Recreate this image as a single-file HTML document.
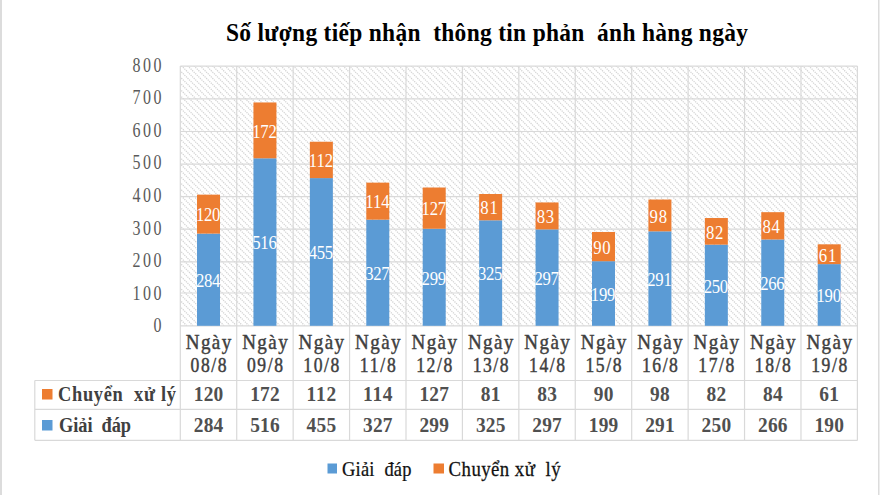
<!DOCTYPE html><html><head><meta charset="utf-8"><style>html,body{margin:0;padding:0;background:#fff;overflow:hidden}svg{display:block}text{white-space:pre}</style></head><body>
<svg width="880" height="495" viewBox="0 0 880 495" font-family='"Liberation Serif", serif'>
<rect x="0" y="0" width="880" height="495" fill="#fff"/>
<rect x="0" y="0" width="2" height="495" fill="#dcdcdc"/>
<rect x="878" y="0" width="1.5" height="495" fill="#dcdcdc"/>
<text transform="translate(226.00,40.60) scale(0.920,1)" x="0" y="0" font-size="25.50" font-weight="bold" fill="#000" text-anchor="start" textLength="567.39" lengthAdjust="spacing">Số lượng tiếp nhận  thông tin phản  ánh hàng ngày</text>
<defs><clipPath id="pc"><rect x="180.30" y="66.10" width="677.10" height="259.70"/></clipPath></defs>
<path clip-path="url(#pc)" d="M-93.46,64.10L170.24,327.80M-87.25,64.10L176.45,327.80M-81.04,64.10L182.66,327.80M-74.83,64.10L188.87,327.80M-68.62,64.10L195.08,327.80M-62.41,64.10L201.29,327.80M-56.20,64.10L207.50,327.80M-49.99,64.10L213.71,327.80M-43.78,64.10L219.92,327.80M-37.57,64.10L226.13,327.80M-31.36,64.10L232.34,327.80M-25.15,64.10L238.55,327.80M-18.94,64.10L244.76,327.80M-12.73,64.10L250.97,327.80M-6.52,64.10L257.18,327.80M-0.31,64.10L263.39,327.80M5.90,64.10L269.60,327.80M12.11,64.10L275.81,327.80M18.32,64.10L282.02,327.80M24.53,64.10L288.23,327.80M30.74,64.10L294.44,327.80M36.95,64.10L300.65,327.80M43.16,64.10L306.86,327.80M49.37,64.10L313.07,327.80M55.58,64.10L319.28,327.80M61.79,64.10L325.49,327.80M68.00,64.10L331.70,327.80M74.21,64.10L337.91,327.80M80.42,64.10L344.12,327.80M86.63,64.10L350.33,327.80M92.84,64.10L356.54,327.80M99.05,64.10L362.75,327.80M105.26,64.10L368.96,327.80M111.47,64.10L375.17,327.80M117.68,64.10L381.38,327.80M123.89,64.10L387.59,327.80M130.10,64.10L393.80,327.80M136.31,64.10L400.01,327.80M142.52,64.10L406.22,327.80M148.73,64.10L412.43,327.80M154.94,64.10L418.64,327.80M161.15,64.10L424.85,327.80M167.36,64.10L431.06,327.80M173.57,64.10L437.27,327.80M179.78,64.10L443.48,327.80M185.99,64.10L449.69,327.80M192.20,64.10L455.90,327.80M198.41,64.10L462.11,327.80M204.62,64.10L468.32,327.80M210.83,64.10L474.53,327.80M217.04,64.10L480.74,327.80M223.25,64.10L486.95,327.80M229.46,64.10L493.16,327.80M235.67,64.10L499.37,327.80M241.88,64.10L505.58,327.80M248.09,64.10L511.79,327.80M254.30,64.10L518.00,327.80M260.51,64.10L524.21,327.80M266.72,64.10L530.42,327.80M272.93,64.10L536.63,327.80M279.14,64.10L542.84,327.80M285.35,64.10L549.05,327.80M291.56,64.10L555.26,327.80M297.77,64.10L561.47,327.80M303.98,64.10L567.68,327.80M310.19,64.10L573.89,327.80M316.40,64.10L580.10,327.80M322.61,64.10L586.31,327.80M328.82,64.10L592.52,327.80M335.03,64.10L598.73,327.80M341.24,64.10L604.94,327.80M347.45,64.10L611.15,327.80M353.66,64.10L617.36,327.80M359.87,64.10L623.57,327.80M366.08,64.10L629.78,327.80M372.29,64.10L635.99,327.80M378.50,64.10L642.20,327.80M384.71,64.10L648.41,327.80M390.92,64.10L654.62,327.80M397.13,64.10L660.83,327.80M403.34,64.10L667.04,327.80M409.55,64.10L673.25,327.80M415.76,64.10L679.46,327.80M421.97,64.10L685.67,327.80M428.18,64.10L691.88,327.80M434.39,64.10L698.09,327.80M440.60,64.10L704.30,327.80M446.81,64.10L710.51,327.80M453.02,64.10L716.72,327.80M459.23,64.10L722.93,327.80M465.44,64.10L729.14,327.80M471.65,64.10L735.35,327.80M477.86,64.10L741.56,327.80M484.07,64.10L747.77,327.80M490.28,64.10L753.98,327.80M496.49,64.10L760.19,327.80M502.70,64.10L766.40,327.80M508.91,64.10L772.61,327.80M515.12,64.10L778.82,327.80M521.33,64.10L785.03,327.80M527.54,64.10L791.24,327.80M533.75,64.10L797.45,327.80M539.96,64.10L803.66,327.80M546.17,64.10L809.87,327.80M552.38,64.10L816.08,327.80M558.59,64.10L822.29,327.80M564.80,64.10L828.50,327.80M571.01,64.10L834.71,327.80M577.22,64.10L840.92,327.80M583.43,64.10L847.13,327.80M589.64,64.10L853.34,327.80M595.85,64.10L859.55,327.80M602.06,64.10L865.76,327.80M608.27,64.10L871.97,327.80M614.48,64.10L878.18,327.80M620.69,64.10L884.39,327.80M626.90,64.10L890.60,327.80M633.11,64.10L896.81,327.80M639.32,64.10L903.02,327.80M645.53,64.10L909.23,327.80M651.74,64.10L915.44,327.80M657.95,64.10L921.65,327.80M664.16,64.10L927.86,327.80M670.37,64.10L934.07,327.80M676.58,64.10L940.28,327.80M682.79,64.10L946.49,327.80M689.00,64.10L952.70,327.80M695.21,64.10L958.91,327.80M701.42,64.10L965.12,327.80M707.63,64.10L971.33,327.80M713.84,64.10L977.54,327.80M720.05,64.10L983.75,327.80M726.26,64.10L989.96,327.80M732.47,64.10L996.17,327.80M738.68,64.10L1002.38,327.80M744.89,64.10L1008.59,327.80M751.10,64.10L1014.80,327.80M757.31,64.10L1021.01,327.80M763.52,64.10L1027.22,327.80M769.73,64.10L1033.43,327.80M775.94,64.10L1039.64,327.80M782.15,64.10L1045.85,327.80M788.36,64.10L1052.06,327.80M794.57,64.10L1058.27,327.80M800.78,64.10L1064.48,327.80M806.99,64.10L1070.69,327.80M813.20,64.10L1076.90,327.80M819.41,64.10L1083.11,327.80M825.62,64.10L1089.32,327.80M831.83,64.10L1095.53,327.80M838.04,64.10L1101.74,327.80M844.25,64.10L1107.95,327.80M850.46,64.10L1114.16,327.80M856.67,64.10L1120.37,327.80" stroke="#d4d4d4" stroke-width="1.3" fill="none" stroke-dasharray="1.25 0.945"/>
<line x1="180.30" y1="66.10" x2="857.40" y2="66.10" stroke="#d9d9d9" stroke-width="1.2"/>
<line x1="180.30" y1="98.90" x2="857.40" y2="98.90" stroke="#d9d9d9" stroke-width="1.2"/>
<line x1="180.30" y1="131.50" x2="857.40" y2="131.50" stroke="#d9d9d9" stroke-width="1.2"/>
<line x1="180.30" y1="164.20" x2="857.40" y2="164.20" stroke="#d9d9d9" stroke-width="1.2"/>
<line x1="180.30" y1="196.60" x2="857.40" y2="196.60" stroke="#d9d9d9" stroke-width="1.2"/>
<line x1="180.30" y1="229.20" x2="857.40" y2="229.20" stroke="#d9d9d9" stroke-width="1.2"/>
<line x1="180.30" y1="261.80" x2="857.40" y2="261.80" stroke="#d9d9d9" stroke-width="1.2"/>
<line x1="180.30" y1="293.00" x2="857.40" y2="293.00" stroke="#d9d9d9" stroke-width="1.2"/>
<line x1="180.30" y1="325.80" x2="857.40" y2="325.80" stroke="#d9d9d9" stroke-width="1.2"/>
<line x1="180.30" y1="66.10" x2="180.30" y2="440.50" stroke="#d9d9d9" stroke-width="1.2"/>
<line x1="236.72" y1="66.10" x2="236.72" y2="440.50" stroke="#d9d9d9" stroke-width="1.2"/>
<line x1="293.15" y1="66.10" x2="293.15" y2="440.50" stroke="#d9d9d9" stroke-width="1.2"/>
<line x1="349.57" y1="66.10" x2="349.57" y2="440.50" stroke="#d9d9d9" stroke-width="1.2"/>
<line x1="406.00" y1="66.10" x2="406.00" y2="440.50" stroke="#d9d9d9" stroke-width="1.2"/>
<line x1="462.42" y1="66.10" x2="462.42" y2="440.50" stroke="#d9d9d9" stroke-width="1.2"/>
<line x1="518.85" y1="66.10" x2="518.85" y2="440.50" stroke="#d9d9d9" stroke-width="1.2"/>
<line x1="575.27" y1="66.10" x2="575.27" y2="440.50" stroke="#d9d9d9" stroke-width="1.2"/>
<line x1="631.70" y1="66.10" x2="631.70" y2="440.50" stroke="#d9d9d9" stroke-width="1.2"/>
<line x1="688.12" y1="66.10" x2="688.12" y2="440.50" stroke="#d9d9d9" stroke-width="1.2"/>
<line x1="744.55" y1="66.10" x2="744.55" y2="440.50" stroke="#d9d9d9" stroke-width="1.2"/>
<line x1="800.97" y1="66.10" x2="800.97" y2="440.50" stroke="#d9d9d9" stroke-width="1.2"/>
<line x1="857.40" y1="66.10" x2="857.40" y2="440.50" stroke="#d9d9d9" stroke-width="1.2"/>
<line x1="34.80" y1="380.50" x2="857.40" y2="380.50" stroke="#d9d9d9" stroke-width="1.2"/>
<line x1="34.80" y1="409.40" x2="857.40" y2="409.40" stroke="#d9d9d9" stroke-width="1.2"/>
<line x1="34.80" y1="440.30" x2="857.40" y2="440.30" stroke="#d9d9d9" stroke-width="1.2"/>
<line x1="34.80" y1="380.5" x2="34.80" y2="440.3" stroke="#d9d9d9" stroke-width="1.2"/>
<text transform="translate(161.50,71.60) scale(0.800,1)" x="0" y="0" font-size="20.00" font-weight="normal" fill="#5a5a5a" text-anchor="end" textLength="36.25" lengthAdjust="spacing">800</text>
<text transform="translate(161.50,104.20) scale(0.800,1)" x="0" y="0" font-size="20.00" font-weight="normal" fill="#5a5a5a" text-anchor="end" textLength="36.25" lengthAdjust="spacing">700</text>
<text transform="translate(161.50,136.80) scale(0.800,1)" x="0" y="0" font-size="20.00" font-weight="normal" fill="#5a5a5a" text-anchor="end" textLength="36.25" lengthAdjust="spacing">600</text>
<text transform="translate(161.50,169.40) scale(0.800,1)" x="0" y="0" font-size="20.00" font-weight="normal" fill="#5a5a5a" text-anchor="end" textLength="36.25" lengthAdjust="spacing">500</text>
<text transform="translate(161.50,202.00) scale(0.800,1)" x="0" y="0" font-size="20.00" font-weight="normal" fill="#5a5a5a" text-anchor="end" textLength="36.25" lengthAdjust="spacing">400</text>
<text transform="translate(161.50,234.60) scale(0.800,1)" x="0" y="0" font-size="20.00" font-weight="normal" fill="#5a5a5a" text-anchor="end" textLength="36.25" lengthAdjust="spacing">300</text>
<text transform="translate(161.50,267.20) scale(0.800,1)" x="0" y="0" font-size="20.00" font-weight="normal" fill="#5a5a5a" text-anchor="end" textLength="36.25" lengthAdjust="spacing">200</text>
<text transform="translate(161.50,299.80) scale(0.800,1)" x="0" y="0" font-size="20.00" font-weight="normal" fill="#5a5a5a" text-anchor="end" textLength="36.25" lengthAdjust="spacing">100</text>
<text transform="translate(161.50,332.40) scale(0.800,1)" x="0" y="0" font-size="20.00" font-weight="normal" fill="#5a5a5a" text-anchor="end">0</text>
<rect x="197.01" y="233.61" width="23" height="92.19" fill="#5B9BD5"/>
<rect x="197.01" y="194.65" width="23" height="38.96" fill="#ED7D31"/>
<text transform="translate(208.11,287.00) scale(0.930,1)" x="0" y="0" font-size="18.00" font-weight="normal" fill="#fff" text-anchor="middle" textLength="26.34" lengthAdjust="spacing">284</text>
<text transform="translate(208.11,221.43) scale(0.930,1)" x="0" y="0" font-size="18.00" font-weight="normal" fill="#fff" text-anchor="middle" textLength="26.34" lengthAdjust="spacing">120</text>
<text transform="translate(208.51,348.50) scale(0.930,1)" x="0" y="0" font-size="20.50" font-weight="normal" fill="#404040" text-anchor="middle" textLength="48.92" lengthAdjust="spacing" stroke="#404040" stroke-width="0.45">Ngày</text>
<text transform="translate(208.51,372.20) scale(0.880,1)" x="0" y="0" font-size="20.00" font-weight="normal" fill="#404040" text-anchor="middle" textLength="40.91" lengthAdjust="spacing" stroke="#404040" stroke-width="0.45">08/8</text>
<text transform="translate(208.51,401.00) scale(0.970,1)" x="0" y="0" font-size="20.00" font-weight="bold" fill="#505050" text-anchor="middle" textLength="30.41" lengthAdjust="spacing">120</text>
<text transform="translate(208.51,431.50) scale(0.970,1)" x="0" y="0" font-size="20.00" font-weight="bold" fill="#505050" text-anchor="middle" textLength="30.41" lengthAdjust="spacing">284</text>
<rect x="253.44" y="158.29" width="23" height="167.51" fill="#5B9BD5"/>
<rect x="253.44" y="102.46" width="23" height="55.84" fill="#ED7D31"/>
<text transform="translate(264.54,249.35) scale(0.930,1)" x="0" y="0" font-size="18.00" font-weight="normal" fill="#fff" text-anchor="middle" textLength="26.34" lengthAdjust="spacing">516</text>
<text transform="translate(264.54,137.68) scale(0.930,1)" x="0" y="0" font-size="18.00" font-weight="normal" fill="#fff" text-anchor="middle" textLength="26.34" lengthAdjust="spacing">172</text>
<text transform="translate(264.94,348.50) scale(0.930,1)" x="0" y="0" font-size="20.50" font-weight="normal" fill="#404040" text-anchor="middle" textLength="48.92" lengthAdjust="spacing" stroke="#404040" stroke-width="0.45">Ngày</text>
<text transform="translate(264.94,372.20) scale(0.880,1)" x="0" y="0" font-size="20.00" font-weight="normal" fill="#404040" text-anchor="middle" textLength="40.91" lengthAdjust="spacing" stroke="#404040" stroke-width="0.45">09/8</text>
<text transform="translate(264.94,401.00) scale(0.970,1)" x="0" y="0" font-size="20.00" font-weight="bold" fill="#505050" text-anchor="middle" textLength="30.41" lengthAdjust="spacing">172</text>
<text transform="translate(264.94,431.50) scale(0.970,1)" x="0" y="0" font-size="20.00" font-weight="bold" fill="#505050" text-anchor="middle" textLength="30.41" lengthAdjust="spacing">516</text>
<rect x="309.86" y="178.10" width="23" height="147.70" fill="#5B9BD5"/>
<rect x="309.86" y="141.74" width="23" height="36.36" fill="#ED7D31"/>
<text transform="translate(320.96,259.25) scale(0.930,1)" x="0" y="0" font-size="18.00" font-weight="normal" fill="#fff" text-anchor="middle" textLength="26.34" lengthAdjust="spacing">455</text>
<text transform="translate(320.96,167.22) scale(0.930,1)" x="0" y="0" font-size="18.00" font-weight="normal" fill="#fff" text-anchor="middle" textLength="26.34" lengthAdjust="spacing">112</text>
<text transform="translate(321.36,348.50) scale(0.930,1)" x="0" y="0" font-size="20.50" font-weight="normal" fill="#404040" text-anchor="middle" textLength="48.92" lengthAdjust="spacing" stroke="#404040" stroke-width="0.45">Ngày</text>
<text transform="translate(321.36,372.20) scale(0.880,1)" x="0" y="0" font-size="20.00" font-weight="normal" fill="#404040" text-anchor="middle" textLength="40.91" lengthAdjust="spacing" stroke="#404040" stroke-width="0.45">10/8</text>
<text transform="translate(321.36,401.00) scale(0.970,1)" x="0" y="0" font-size="20.00" font-weight="bold" fill="#505050" text-anchor="middle" textLength="30.41" lengthAdjust="spacing">112</text>
<text transform="translate(321.36,431.50) scale(0.970,1)" x="0" y="0" font-size="20.00" font-weight="bold" fill="#505050" text-anchor="middle" textLength="30.41" lengthAdjust="spacing">455</text>
<rect x="366.29" y="219.65" width="23" height="106.15" fill="#5B9BD5"/>
<rect x="366.29" y="182.64" width="23" height="37.01" fill="#ED7D31"/>
<text transform="translate(377.39,280.02) scale(0.930,1)" x="0" y="0" font-size="18.00" font-weight="normal" fill="#fff" text-anchor="middle" textLength="26.34" lengthAdjust="spacing">327</text>
<text transform="translate(377.39,208.44) scale(0.930,1)" x="0" y="0" font-size="18.00" font-weight="normal" fill="#fff" text-anchor="middle" textLength="26.34" lengthAdjust="spacing">114</text>
<text transform="translate(377.79,348.50) scale(0.930,1)" x="0" y="0" font-size="20.50" font-weight="normal" fill="#404040" text-anchor="middle" textLength="48.92" lengthAdjust="spacing" stroke="#404040" stroke-width="0.45">Ngày</text>
<text transform="translate(377.79,372.20) scale(0.880,1)" x="0" y="0" font-size="20.00" font-weight="normal" fill="#404040" text-anchor="middle" textLength="40.91" lengthAdjust="spacing" stroke="#404040" stroke-width="0.45">11/8</text>
<text transform="translate(377.79,401.00) scale(0.970,1)" x="0" y="0" font-size="20.00" font-weight="bold" fill="#505050" text-anchor="middle" textLength="30.41" lengthAdjust="spacing">114</text>
<text transform="translate(377.79,431.50) scale(0.970,1)" x="0" y="0" font-size="20.00" font-weight="bold" fill="#505050" text-anchor="middle" textLength="30.41" lengthAdjust="spacing">327</text>
<rect x="422.71" y="228.74" width="23" height="97.06" fill="#5B9BD5"/>
<rect x="422.71" y="187.51" width="23" height="41.23" fill="#ED7D31"/>
<text transform="translate(433.81,284.57) scale(0.930,1)" x="0" y="0" font-size="18.00" font-weight="normal" fill="#fff" text-anchor="middle" textLength="26.34" lengthAdjust="spacing">299</text>
<text transform="translate(433.81,215.42) scale(0.930,1)" x="0" y="0" font-size="18.00" font-weight="normal" fill="#fff" text-anchor="middle" textLength="26.34" lengthAdjust="spacing">127</text>
<text transform="translate(434.21,348.50) scale(0.930,1)" x="0" y="0" font-size="20.50" font-weight="normal" fill="#404040" text-anchor="middle" textLength="48.92" lengthAdjust="spacing" stroke="#404040" stroke-width="0.45">Ngày</text>
<text transform="translate(434.21,372.20) scale(0.880,1)" x="0" y="0" font-size="20.00" font-weight="normal" fill="#404040" text-anchor="middle" textLength="40.91" lengthAdjust="spacing" stroke="#404040" stroke-width="0.45">12/8</text>
<text transform="translate(434.21,401.00) scale(0.970,1)" x="0" y="0" font-size="20.00" font-weight="bold" fill="#505050" text-anchor="middle" textLength="30.41" lengthAdjust="spacing">127</text>
<text transform="translate(434.21,431.50) scale(0.970,1)" x="0" y="0" font-size="20.00" font-weight="bold" fill="#505050" text-anchor="middle" textLength="30.41" lengthAdjust="spacing">299</text>
<rect x="479.14" y="220.30" width="23" height="105.50" fill="#5B9BD5"/>
<rect x="479.14" y="194.00" width="23" height="26.29" fill="#ED7D31"/>
<text transform="translate(490.24,280.35) scale(0.930,1)" x="0" y="0" font-size="18.00" font-weight="normal" fill="#fff" text-anchor="middle" textLength="26.34" lengthAdjust="spacing">325</text>
<text transform="translate(489.04,214.45) scale(0.930,1)" x="0" y="0" font-size="18.00" font-weight="normal" fill="#fff" text-anchor="middle" textLength="18.82" lengthAdjust="spacing">81</text>
<text transform="translate(490.64,348.50) scale(0.930,1)" x="0" y="0" font-size="20.50" font-weight="normal" fill="#404040" text-anchor="middle" textLength="48.92" lengthAdjust="spacing" stroke="#404040" stroke-width="0.45">Ngày</text>
<text transform="translate(490.64,372.20) scale(0.880,1)" x="0" y="0" font-size="20.00" font-weight="normal" fill="#404040" text-anchor="middle" textLength="40.91" lengthAdjust="spacing" stroke="#404040" stroke-width="0.45">13/8</text>
<text transform="translate(490.64,401.00) scale(0.970,1)" x="0" y="0" font-size="20.00" font-weight="bold" fill="#505050" text-anchor="middle" textLength="20.31" lengthAdjust="spacing">81</text>
<text transform="translate(490.64,431.50) scale(0.970,1)" x="0" y="0" font-size="20.00" font-weight="bold" fill="#505050" text-anchor="middle" textLength="30.41" lengthAdjust="spacing">325</text>
<rect x="535.56" y="229.39" width="23" height="96.41" fill="#5B9BD5"/>
<rect x="535.56" y="202.44" width="23" height="26.94" fill="#ED7D31"/>
<text transform="translate(546.66,284.89) scale(0.930,1)" x="0" y="0" font-size="18.00" font-weight="normal" fill="#fff" text-anchor="middle" textLength="26.34" lengthAdjust="spacing">297</text>
<text transform="translate(545.46,223.21) scale(0.930,1)" x="0" y="0" font-size="18.00" font-weight="normal" fill="#fff" text-anchor="middle" textLength="18.82" lengthAdjust="spacing">83</text>
<text transform="translate(547.06,348.50) scale(0.930,1)" x="0" y="0" font-size="20.50" font-weight="normal" fill="#404040" text-anchor="middle" textLength="48.92" lengthAdjust="spacing" stroke="#404040" stroke-width="0.45">Ngày</text>
<text transform="translate(547.06,372.20) scale(0.880,1)" x="0" y="0" font-size="20.00" font-weight="normal" fill="#404040" text-anchor="middle" textLength="40.91" lengthAdjust="spacing" stroke="#404040" stroke-width="0.45">14/8</text>
<text transform="translate(547.06,401.00) scale(0.970,1)" x="0" y="0" font-size="20.00" font-weight="bold" fill="#505050" text-anchor="middle" textLength="20.31" lengthAdjust="spacing">83</text>
<text transform="translate(547.06,431.50) scale(0.970,1)" x="0" y="0" font-size="20.00" font-weight="bold" fill="#505050" text-anchor="middle" textLength="30.41" lengthAdjust="spacing">297</text>
<rect x="591.99" y="261.20" width="23" height="64.60" fill="#5B9BD5"/>
<rect x="591.99" y="231.98" width="23" height="29.22" fill="#ED7D31"/>
<text transform="translate(603.09,300.80) scale(0.930,1)" x="0" y="0" font-size="18.00" font-weight="normal" fill="#fff" text-anchor="middle" textLength="26.34" lengthAdjust="spacing">199</text>
<text transform="translate(601.89,253.89) scale(0.930,1)" x="0" y="0" font-size="18.00" font-weight="normal" fill="#fff" text-anchor="middle" textLength="18.82" lengthAdjust="spacing">90</text>
<text transform="translate(603.49,348.50) scale(0.930,1)" x="0" y="0" font-size="20.50" font-weight="normal" fill="#404040" text-anchor="middle" textLength="48.92" lengthAdjust="spacing" stroke="#404040" stroke-width="0.45">Ngày</text>
<text transform="translate(603.49,372.20) scale(0.880,1)" x="0" y="0" font-size="20.00" font-weight="normal" fill="#404040" text-anchor="middle" textLength="40.91" lengthAdjust="spacing" stroke="#404040" stroke-width="0.45">15/8</text>
<text transform="translate(603.49,401.00) scale(0.970,1)" x="0" y="0" font-size="20.00" font-weight="bold" fill="#505050" text-anchor="middle" textLength="20.31" lengthAdjust="spacing">90</text>
<text transform="translate(603.49,431.50) scale(0.970,1)" x="0" y="0" font-size="20.00" font-weight="bold" fill="#505050" text-anchor="middle" textLength="30.41" lengthAdjust="spacing">199</text>
<rect x="648.41" y="231.33" width="23" height="94.47" fill="#5B9BD5"/>
<rect x="648.41" y="199.52" width="23" height="31.81" fill="#ED7D31"/>
<text transform="translate(659.51,285.87) scale(0.930,1)" x="0" y="0" font-size="18.00" font-weight="normal" fill="#fff" text-anchor="middle" textLength="26.34" lengthAdjust="spacing">291</text>
<text transform="translate(658.31,222.73) scale(0.930,1)" x="0" y="0" font-size="18.00" font-weight="normal" fill="#fff" text-anchor="middle" textLength="18.82" lengthAdjust="spacing">98</text>
<text transform="translate(659.91,348.50) scale(0.930,1)" x="0" y="0" font-size="20.50" font-weight="normal" fill="#404040" text-anchor="middle" textLength="48.92" lengthAdjust="spacing" stroke="#404040" stroke-width="0.45">Ngày</text>
<text transform="translate(659.91,372.20) scale(0.880,1)" x="0" y="0" font-size="20.00" font-weight="normal" fill="#404040" text-anchor="middle" textLength="40.91" lengthAdjust="spacing" stroke="#404040" stroke-width="0.45">16/8</text>
<text transform="translate(659.91,401.00) scale(0.970,1)" x="0" y="0" font-size="20.00" font-weight="bold" fill="#505050" text-anchor="middle" textLength="20.31" lengthAdjust="spacing">98</text>
<text transform="translate(659.91,431.50) scale(0.970,1)" x="0" y="0" font-size="20.00" font-weight="bold" fill="#505050" text-anchor="middle" textLength="30.41" lengthAdjust="spacing">291</text>
<rect x="704.84" y="244.64" width="23" height="81.16" fill="#5B9BD5"/>
<rect x="704.84" y="218.02" width="23" height="26.62" fill="#ED7D31"/>
<text transform="translate(715.94,292.52) scale(0.930,1)" x="0" y="0" font-size="18.00" font-weight="normal" fill="#fff" text-anchor="middle" textLength="26.34" lengthAdjust="spacing">250</text>
<text transform="translate(714.74,238.63) scale(0.930,1)" x="0" y="0" font-size="18.00" font-weight="normal" fill="#fff" text-anchor="middle" textLength="18.82" lengthAdjust="spacing">82</text>
<text transform="translate(716.34,348.50) scale(0.930,1)" x="0" y="0" font-size="20.50" font-weight="normal" fill="#404040" text-anchor="middle" textLength="48.92" lengthAdjust="spacing" stroke="#404040" stroke-width="0.45">Ngày</text>
<text transform="translate(716.34,372.20) scale(0.880,1)" x="0" y="0" font-size="20.00" font-weight="normal" fill="#404040" text-anchor="middle" textLength="40.91" lengthAdjust="spacing" stroke="#404040" stroke-width="0.45">17/8</text>
<text transform="translate(716.34,401.00) scale(0.970,1)" x="0" y="0" font-size="20.00" font-weight="bold" fill="#505050" text-anchor="middle" textLength="20.31" lengthAdjust="spacing">82</text>
<text transform="translate(716.34,431.50) scale(0.970,1)" x="0" y="0" font-size="20.00" font-weight="bold" fill="#505050" text-anchor="middle" textLength="30.41" lengthAdjust="spacing">250</text>
<rect x="761.26" y="239.45" width="23" height="86.35" fill="#5B9BD5"/>
<rect x="761.26" y="212.18" width="23" height="27.27" fill="#ED7D31"/>
<text transform="translate(772.36,289.92) scale(0.930,1)" x="0" y="0" font-size="18.00" font-weight="normal" fill="#fff" text-anchor="middle" textLength="26.34" lengthAdjust="spacing">266</text>
<text transform="translate(771.16,233.12) scale(0.930,1)" x="0" y="0" font-size="18.00" font-weight="normal" fill="#fff" text-anchor="middle" textLength="18.82" lengthAdjust="spacing">84</text>
<text transform="translate(772.76,348.50) scale(0.930,1)" x="0" y="0" font-size="20.50" font-weight="normal" fill="#404040" text-anchor="middle" textLength="48.92" lengthAdjust="spacing" stroke="#404040" stroke-width="0.45">Ngày</text>
<text transform="translate(772.76,372.20) scale(0.880,1)" x="0" y="0" font-size="20.00" font-weight="normal" fill="#404040" text-anchor="middle" textLength="40.91" lengthAdjust="spacing" stroke="#404040" stroke-width="0.45">18/8</text>
<text transform="translate(772.76,401.00) scale(0.970,1)" x="0" y="0" font-size="20.00" font-weight="bold" fill="#505050" text-anchor="middle" textLength="20.31" lengthAdjust="spacing">84</text>
<text transform="translate(772.76,431.50) scale(0.970,1)" x="0" y="0" font-size="20.00" font-weight="bold" fill="#505050" text-anchor="middle" textLength="30.41" lengthAdjust="spacing">266</text>
<rect x="817.69" y="264.12" width="23" height="61.68" fill="#5B9BD5"/>
<rect x="817.69" y="244.32" width="23" height="19.80" fill="#ED7D31"/>
<text transform="translate(828.79,302.26) scale(0.930,1)" x="0" y="0" font-size="18.00" font-weight="normal" fill="#fff" text-anchor="middle" textLength="26.34" lengthAdjust="spacing">190</text>
<text transform="translate(827.59,261.52) scale(0.930,1)" x="0" y="0" font-size="18.00" font-weight="normal" fill="#fff" text-anchor="middle" textLength="18.82" lengthAdjust="spacing">61</text>
<text transform="translate(829.19,348.50) scale(0.930,1)" x="0" y="0" font-size="20.50" font-weight="normal" fill="#404040" text-anchor="middle" textLength="48.92" lengthAdjust="spacing" stroke="#404040" stroke-width="0.45">Ngày</text>
<text transform="translate(829.19,372.20) scale(0.880,1)" x="0" y="0" font-size="20.00" font-weight="normal" fill="#404040" text-anchor="middle" textLength="40.91" lengthAdjust="spacing" stroke="#404040" stroke-width="0.45">19/8</text>
<text transform="translate(829.19,401.00) scale(0.970,1)" x="0" y="0" font-size="20.00" font-weight="bold" fill="#505050" text-anchor="middle" textLength="20.31" lengthAdjust="spacing">61</text>
<text transform="translate(829.19,431.50) scale(0.970,1)" x="0" y="0" font-size="20.00" font-weight="bold" fill="#505050" text-anchor="middle" textLength="30.41" lengthAdjust="spacing">190</text>
<rect x="42" y="389" width="10.5" height="10.5" fill="#ED7D31"/>
<rect x="42" y="420" width="10.5" height="10.5" fill="#5B9BD5"/>
<text transform="translate(58.00,401.00) scale(0.920,1)" x="0" y="0" font-size="20.00" font-weight="bold" fill="#404040" text-anchor="start" textLength="128.26" lengthAdjust="spacing">Chuyển  xử lý</text>
<text transform="translate(59.00,431.50) scale(0.920,1)" x="0" y="0" font-size="20.00" font-weight="bold" fill="#404040" text-anchor="start" textLength="78.26" lengthAdjust="spacing">Giải  đáp</text>
<rect x="327.5" y="463.5" width="9.5" height="10" fill="#5B9BD5"/>
<text transform="translate(342.00,476.10) scale(0.900,1)" x="0" y="0" font-size="20.50" font-weight="normal" fill="#111" text-anchor="start" textLength="77.22" lengthAdjust="spacing" stroke="#111" stroke-width="0.25">Giải  đáp</text>
<rect x="433.5" y="463.5" width="10.5" height="10" fill="#ED7D31"/>
<text transform="translate(448.60,476.10) scale(0.920,1)" x="0" y="0" font-size="20.50" font-weight="normal" fill="#111" text-anchor="start" textLength="121.74" lengthAdjust="spacing" stroke="#111" stroke-width="0.25">Chuyển xử  lý</text>
</svg></body></html>
